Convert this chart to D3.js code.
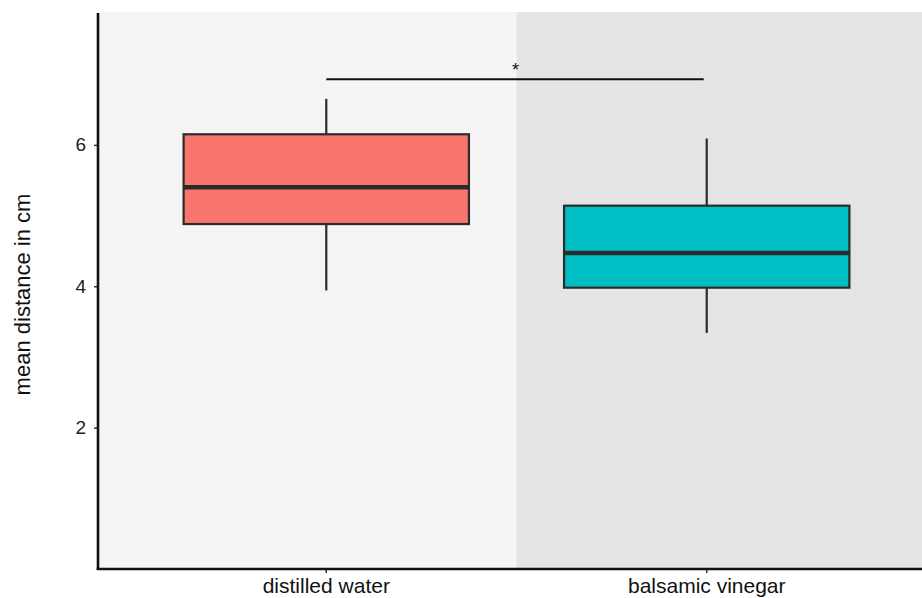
<!DOCTYPE html>
<html>
<head>
<meta charset="utf-8">
<script src="https://cdn.jsdelivr.net/npm/d3@7"></script>
<style>
  html, body { margin: 0; padding: 0; background: #ffffff; }
  svg { display: block; }
  text { font-family: "Liberation Sans", Arial, sans-serif; }
</style>
</head>
<body>
<script>
// Groups and their five-number summaries (cm)
const groups = ["distilled water", "balsamic vinegar"];
const whiskerLow  = [3.94, 3.34];
const quartile1   = [4.88, 3.98];
const medians     = [5.40, 4.47];
const quartile3   = [6.15, 5.14];
const whiskerHigh = [6.65, 6.09];
const fills = ["#F8766D", "#00BFC4"];
const panelFills = ["#f5f5f5", "#e4e4e4"];
const yTicks = [2, 4, 6];
const sigLevel = 6.93;
const sigLabel = "*";
const yTitle = "mean distance in cm";

const W = 922, H = 598;
const margin = { left: 98, top: 12, bottom: 29 };
const plotBottom = H - margin.bottom;

const svg = d3.select("body").append("svg")
  .attr("width", W).attr("height", H);

const x = d3.scaleBand()
  .domain(groups)
  .range([margin.left, 935])
  .paddingInner(0)
  .paddingOuter(0.1);

const y = d3.scaleLinear()
  .domain([0, 7.88])
  .range([plotBottom, margin.top]);

const cx = g => x(g) + x.bandwidth() / 2;
const boxW = x.bandwidth() * 0.75;

// Shaded background halves, split midway between the two groups
const split = (cx(groups[0]) + cx(groups[1])) / 2;
const panels = [
  { x0: x.range()[0], x1: split, fill: panelFills[0] },
  { x0: split, x1: x.range()[1], fill: panelFills[1] }
];
svg.append("g").selectAll("rect").data(panels).join("rect")
  .attr("x", d => d.x0)
  .attr("y", margin.top)
  .attr("width", d => d.x1 - d.x0)
  .attr("height", plotBottom - margin.top)
  .attr("fill", d => d.fill);

// Boxes
const data = groups.map((g, i) => ({
  g, lo: whiskerLow[i], q1: quartile1[i], med: medians[i],
  q3: quartile3[i], hi: whiskerHigh[i], fill: fills[i]
}));

const boxes = svg.append("g").selectAll("g").data(data).join("g");

boxes.append("line")
  .attr("x1", d => cx(d.g)).attr("x2", d => cx(d.g))
  .attr("y1", d => y(d.hi)).attr("y2", d => y(d.q3))
  .attr("stroke", "#2b2b2b").attr("stroke-width", 2.2);
boxes.append("line")
  .attr("x1", d => cx(d.g)).attr("x2", d => cx(d.g))
  .attr("y1", d => y(d.q1)).attr("y2", d => y(d.lo))
  .attr("stroke", "#2b2b2b").attr("stroke-width", 2.2);
boxes.append("rect")
  .attr("x", d => cx(d.g) - boxW / 2)
  .attr("width", boxW)
  .attr("y", d => y(d.q3))
  .attr("height", d => y(d.q1) - y(d.q3))
  .attr("fill", d => d.fill)
  .attr("stroke", "#2b2b2b").attr("stroke-width", 2.2);
boxes.append("line")
  .attr("x1", d => cx(d.g) - boxW / 2).attr("x2", d => cx(d.g) + boxW / 2)
  .attr("y1", d => y(d.med)).attr("y2", d => y(d.med))
  .attr("stroke", "#2b2b2b").attr("stroke-width", 4.5);

// Significance bracket
svg.append("line")
  .attr("x1", cx(groups[0])).attr("x2", cx(groups[1]) - 3)
  .attr("y1", y(sigLevel)).attr("y2", y(sigLevel))
  .attr("stroke", "#111").attr("stroke-width", 2);
svg.append("text")
  .attr("x", split - 1).attr("y", y(sigLevel) - 3)
  .attr("text-anchor", "middle")
  .attr("font-size", 18).attr("fill", "#111")
  .text(sigLabel);

// Y axis
const yAxis = svg.append("g")
  .attr("transform", `translate(${margin.left},0)`)
  .call(d3.axisLeft(y).tickValues(yTicks).tickSize(4).tickPadding(8).tickFormat(d3.format("d")));
yAxis.select(".domain").remove();
yAxis.selectAll(".tick line").attr("stroke", "#333").attr("stroke-width", 1.5);
yAxis.selectAll(".tick text").attr("font-size", 19).attr("fill", "#222")
  .attr("font-family", "'Liberation Sans', Arial, sans-serif");
svg.append("line")
  .attr("x1", margin.left).attr("x2", margin.left)
  .attr("y1", margin.top + 1).attr("y2", plotBottom + 1)
  .attr("stroke", "#111").attr("stroke-width", 2.6);

// X axis
const xAxis = svg.append("g")
  .attr("transform", `translate(0,${plotBottom})`)
  .call(d3.axisBottom(x).tickSize(4).tickPadding(5));
xAxis.select(".domain").remove();
xAxis.selectAll(".tick line").attr("stroke", "#333").attr("stroke-width", 1.5);
xAxis.selectAll(".tick text").attr("font-size", 21).attr("fill", "#111")
  .attr("font-family", "'Liberation Sans', Arial, sans-serif");
svg.append("line")
  .attr("x1", margin.left - 1.3).attr("x2", W)
  .attr("y1", plotBottom).attr("y2", plotBottom)
  .attr("stroke", "#111").attr("stroke-width", 2.6);

// Y axis title
svg.append("text")
  .attr("transform", `translate(30,${(margin.top + plotBottom) / 2 + 4}) rotate(-90)`)
  .attr("text-anchor", "middle")
  .attr("font-size", 22).attr("fill", "#111")
  .text(yTitle);
</script>
</body>
</html>
